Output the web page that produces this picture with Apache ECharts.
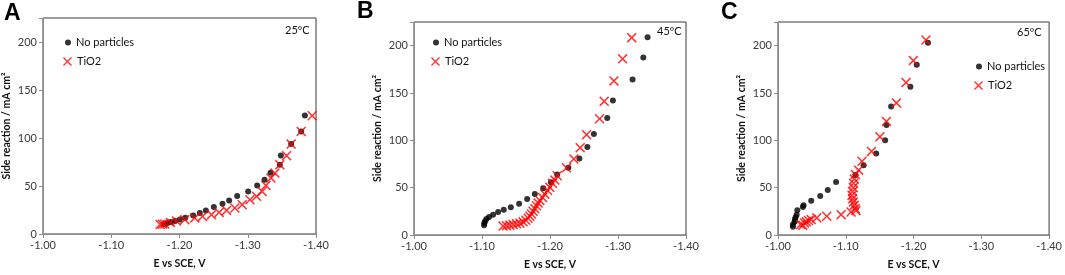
<!DOCTYPE html>
<html>
<head>
<meta charset="utf-8">
<script src="https://cdn.jsdelivr.net/npm/echarts@6/dist/echarts.min.js"></script>
<style>
	html, body { margin: 0; padding: 0; background: #fff; }
	#main { width: 1065px; height: 275px; }
</style>
</head>
<body>
<div id="main"></div>
<script>
// 面板 A, 25ºC
var eA_none = [-1.1775, -1.1824, -1.1873, -1.1936, -1.2005, -1.2085, -1.2200, -1.2298, -1.2386, -1.2503, -1.2630, -1.2727, -1.2845, -1.3006, -1.3138, -1.3246, -1.3334, -1.3470, -1.3485, -1.3636, -1.3783, -1.3837];
var iA_none = [10.4, 11.5, 12.5, 13.6, 15.2, 16.8, 19.4, 21.9, 24.6, 28.1, 31.6, 35.0, 39.6, 44.4, 50.6, 56.6, 63.9, 72.2, 81.9, 93.7, 106.9, 123.5];
var eA_tio2 = [-1.1716, -1.1750, -1.1785, -1.1868, -1.1956, -1.2078, -1.2224, -1.2337, -1.2469, -1.2580, -1.2689, -1.2811, -1.2918, -1.3031, -1.3129, -1.3211, -1.3266, -1.3340, -1.3398, -1.3470, -1.3569, -1.3636, -1.3783, -1.3944];
var iA_tio2 = [10.0, 10.2, 10.4, 12.1, 13.5, 14.9, 16.7, 18.3, 20.1, 22.5, 24.6, 27.1, 30.5, 35.7, 39.2, 44.4, 50.6, 58.3, 63.5, 72.2, 81.6, 93.7, 106.9, 123.2];

// 面板 B, 45ºC
var eB_none = [-1.1031, -1.1033, -1.1045, -1.1065, -1.1104, -1.1163, -1.1237, -1.1320, -1.1424, -1.1546, -1.1664, -1.1777, -1.1900, -1.2013, -1.2105, -1.2270, -1.2432, -1.2550, -1.2645, -1.2842, -1.2925, -1.3214, -1.3372, -1.3435];
var iB_none = [10.4, 12.5, 14.6, 17.0, 19.1, 21.5, 24.3, 26.7, 29.2, 33.0, 37.9, 43.4, 49.4, 55.6, 64.0, 71.0, 80.7, 92.9, 106.8, 123.5, 142.0, 164.2, 187.5, 208.8];
var eB_tio2 = [-1.1310, -1.1360, -1.1409, -1.1458, -1.1508, -1.1557, -1.1605, -1.1645, -1.1678, -1.1703, -1.1728, -1.1752, -1.1777, -1.1801, -1.1826, -1.1850, -1.1890, -1.1924, -1.1964, -1.1997, -1.2037, -1.2071, -1.2105, -1.2243, -1.2351, -1.2444, -1.2538, -1.2729, -1.2797, -1.2940, -1.3068, -1.3201];
var iB_tio2 = [9.4, 9.9, 10.4, 11.1, 11.8, 12.5, 13.9, 15.7, 17.7, 19.8, 22.2, 25.0, 27.8, 30.9, 33.7, 36.5, 39.7, 43.1, 47.0, 50.4, 54.6, 58.0, 62.6, 71.0, 80.4, 92.2, 106.0, 122.8, 141.2, 162.8, 186.1, 208.4];

// 面板 C, 65ºC
var eC_none = [-1.0220, -1.0220, -1.0245, -1.0250, -1.0260, -1.0275, -1.0285, -1.0367, -1.0377, -1.0490, -1.0623, -1.0734, -1.0857, -1.1141, -1.1263, -1.1449, -1.1581, -1.1600, -1.1669, -1.1953, -1.2047, -1.2213];
var iC_none = [8.7, 11.0, 13.9, 16.3, 18.8, 21.5, 26.1, 29.5, 31.3, 36.1, 41.3, 47.6, 56.0, 63.3, 73.7, 86.2, 100.2, 116.2, 135.7, 156.6, 179.9, 203.1];
var eC_tio2 = [-1.0333, -1.0367, -1.0392, -1.0417, -1.0450, -1.0490, -1.0573, -1.0720, -1.0931, -1.1078, -1.1151, -1.1141, -1.1126, -1.1112, -1.1101, -1.1092, -1.1101, -1.1112, -1.1116, -1.1126, -1.1141, -1.1190, -1.1239, -1.1380, -1.1504, -1.1600, -1.1747, -1.1889, -1.1997, -1.2183];
var iC_tio2 = [11.0, 10.4, 12.8, 13.9, 15.2, 16.3, 18.1, 19.8, 21.5, 24.3, 25.7, 27.8, 31.3, 34.8, 38.2, 41.8, 45.9, 50.1, 54.6, 59.1, 64.0, 68.5, 77.9, 88.3, 103.7, 120.0, 139.5, 161.0, 184.3, 206.0];

var panels = ['A', 'B', 'C'];
var temps = ['25ºC', '45ºC', '65ºC'];
var xTicks = [-1.4, -1.0, 0.1]; // min, max, interval
var yTicks = [0, 225, 50];

var FONT = 'Lato';
var CROSS = 'path://M0,1.1L1.1,0L5,3.9L8.9,0L10,1.1L6.1,5L10,8.9L8.9,10L5,6.1L1.1,10L0,8.9L3.9,5Z';

function zip(xs, ys) {
	return xs.map(function(x, i) { return [x, ys[i]]; });
}

var myChart = echarts.init(document.getElementById('main'));

// 每个面板的位置
var grids = [
	{ left: 43, top: 18, width: 273, height: 216 },
	{ left: 414, top: 22, width: 272, height: 215 },
	{ left: 778, top: 22, width: 273, height: 215 }
];
var legendPos = [
	{ left: 64, top: 37 },
	{ left: 432, top: 37 },
	{ left: 975, top: 61 }
];
var tempPos = [
	{ left: 285, top: 25 },
	{ left: 657, top: 26 },
	{ left: 1017, top: 27 }
];
var letterPos = [
	{ left: 4, top: 2 },
	{ left: 357, top: 0 },
	{ left: 721, top: 1 }
];

var data = [
	[zip(eA_none, iA_none), zip(eA_tio2, iA_tio2)],
	[zip(eB_none, iB_none), zip(eB_tio2, iB_tio2)],
	[zip(eC_none, iC_none), zip(eC_tio2, iC_tio2)]
];

var xAxes = [], yAxes = [], series = [], legends = [], titles = [], texts = [];
panels.forEach(function(p, i) {
	grids[i].show = true;
	grids[i].borderColor = '#3a3a3a';
	grids[i].borderWidth = 1;
	xAxes.push({
		type: 'value',
		gridIndex: i,
		min: xTicks[0],
		max: xTicks[1],
		interval: xTicks[2],
		inverse: true,
		name: 'E vs SCE, V',
		nameLocation: 'middle',
		nameGap: 24,
		nameTextStyle: { fontFamily: FONT, fontWeight: 'bold', fontSize: 10.5, color: '#111' },
		axisLine: { show: true, lineStyle: { color: '#8c8c8c', width: 1 } },
		axisTick: { show: true, length: 4, lineStyle: { color: '#8c8c8c' } },
		splitLine: { show: false },
		axisLabel: {
			fontFamily: FONT, fontSize: 11, color: '#3a3a3a', margin: 6,
			formatter: function(v) { return v.toFixed(2); }
		}
	});
	yAxes.push({
		type: 'value',
		gridIndex: i,
		min: yTicks[0],
		max: yTicks[1],
		interval: yTicks[2],
		name: 'Side reaction / mA cm²',
		nameLocation: 'middle',
		nameGap: 31,
		nameTextStyle: { fontFamily: FONT, fontWeight: 'bold', fontSize: 10.5, color: '#111' },
		axisLine: { show: true, lineStyle: { color: '#8c8c8c', width: 1 } },
		axisTick: { show: true, length: 4, lineStyle: { color: '#8c8c8c' } },
		splitLine: { show: false },
		axisLabel: {
			fontFamily: FONT, fontSize: 11, color: '#3a3a3a', margin: 6,
			formatter: function(v) { return v % 50 === 0 ? String(v) : ''; }
		}
	});
	series.push({
		name: 'No particles',
		type: 'scatter',
		xAxisIndex: i,
		yAxisIndex: i,
		symbol: 'circle',
		symbolSize: 6,
		itemStyle: { color: '#000' },
		data: data[i][0]
	});
	series.push({
		name: 'TiO2',
		type: 'scatter',
		xAxisIndex: i,
		yAxisIndex: i,
		symbol: CROSS,
		symbolSize: 10,
		itemStyle: { color: '#ff0000' },
		z: 3,
		data: data[i][1]
	});
	// 图例：圆点和叉分开，大小不同
	legends.push({
		data: ['No particles'],
		left: legendPos[i].left + 1,
		top: legendPos[i].top,
		itemWidth: 6, itemHeight: 6, itemGap: 4,
		padding: 0,
		textStyle: { fontFamily: FONT, fontSize: 11, color: '#111' }
	});
	legends.push({
		data: ['TiO2'],
		left: legendPos[i].left - 1,
		top: legendPos[i].top + 19,
		itemWidth: 9, itemHeight: 9, itemGap: 4,
		padding: 0,
		textStyle: { fontFamily: FONT, fontSize: 11, color: '#111' }
	});
	titles.push({
		text: p,
		left: letterPos[i].left,
		top: letterPos[i].top,
		padding: 0,
		textStyle: { fontFamily: 'Liberation Sans', fontWeight: 'bold', fontSize: 23, color: '#000' }
	});
	texts.push({
		type: 'text',
		left: tempPos[i].left,
		top: tempPos[i].top,
		style: { text: temps[i], font: '11px ' + FONT, fill: '#111' }
	});
});

var option = {
	animation: false,
	title: titles,
	grid: grids,
	xAxis: xAxes,
	yAxis: yAxes,
	legend: legends,
	graphic: texts,
	series: series
};
myChart.setOption(option);
</script>
</body>
</html>
